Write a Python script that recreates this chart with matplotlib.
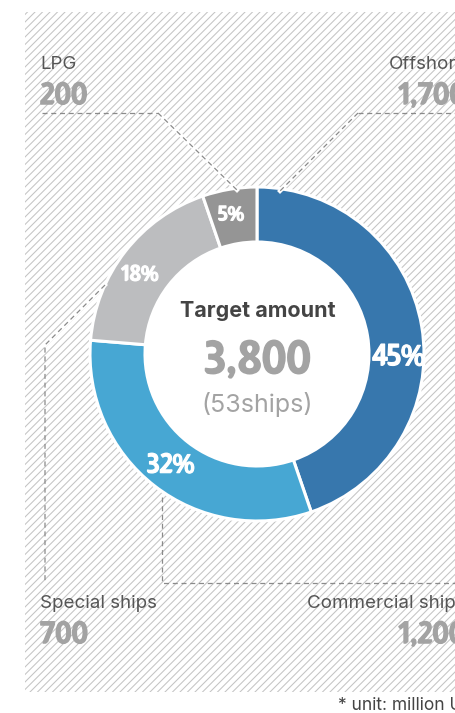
import numpy as np
import matplotlib
matplotlib.use("Agg")
import matplotlib.pyplot as plt
import matplotlib.patheffects as pe
from matplotlib import font_manager
from matplotlib.font_manager import FontProperties
from matplotlib.textpath import TextPath
from matplotlib.patches import Rectangle, Circle

# data
categories = ["Offshore", "Commercial ships", "Special ships", "LPG"]
amounts = [1700, 1200, 700, 200]
pct_labels = ["45%", "32%", "18%", "5%"]
total_amount = "3,800"
total_ships = "(53ships)"
unit_note = "* unit: million USD"

colors = ["#3777ad", "#47a7d3", "#bcbdbf", "#959595"]
pct_px = [22, 20, 16, 15]   # digit heights in the reference, pixels

# pick the bold face whose digits are as narrow as the reference's
best = None
for f in font_manager.fontManager.ttflist:
    if f.style != "normal" or f.weight not in (700, "bold"):
        continue
    try:
        bb = TextPath((0, 0), "200", size=100, prop=FontProperties(fname=f.fname)).get_extents()
    except Exception:
        continue
    if bb.height <= 0:
        continue
    score = abs(bb.width / bb.height - 2.05)
    if best is None or score < best[0]:
        best = (score, f.fname, bb.height / 100)
num_file, digit_frac = best[1], best[2]


def numfont(px):
    # font size (pt) so that digits are px pixels tall at 100 dpi
    return FontProperties(fname=num_file, size=px / digit_frac * 0.72)


def heavy(color, lw=1.1):
    return [pe.withStroke(linewidth=lw, foreground=color)]


names = {f.name for f in font_manager.fontManager.ttflist}
sans = "Inter" if "Inter" in names else "Liberation Sans"

W, H = 456, 713
fig = plt.figure(figsize=(W / 100, H / 100), dpi=100)
ax = fig.add_axes([0, 0, 1, 1])


def Y(py):  # pixel row -> data y
    return H - py


# hatched background
bg = Rectangle((25, Y(692)), 460, 680, facecolor="white", edgecolor="none", zorder=0)
ax.add_patch(bg)
step = 7.5
for x0 in np.arange(25 - 700, 500, step):
    ln, = ax.plot([x0, x0 + 700], [Y(692), Y(692) + 700], color="#c4c4c4", lw=0.75, zorder=1)
    ln.set_clip_path(bg)

cx, cy, r_out, r_in = 257, Y(354), 167, 112

ax.add_patch(Circle((cx, cy), r_in, facecolor="white", edgecolor="none", zorder=2))
wedges, _ = ax.pie(amounts, colors=colors, startangle=90, counterclock=False,
                   radius=r_out, center=(cx, cy),
                   wedgeprops=dict(width=r_out - r_in, edgecolor="white", linewidth=2.2))
for w in wedges:
    w.set_zorder(3)

# percentage labels
tweak = [-11, 0, 4, 1]
r_mid = (r_out + r_in) / 2 + 2
for w, lab, px, dt in zip(wedges, pct_labels, pct_px, tweak):
    mid = (w.theta1 + w.theta2) / 2 + dt
    a = np.deg2rad(mid)
    ax.text(cx + r_mid * np.cos(a), cy + r_mid * np.sin(a), lab, color="white",
            fontproperties=numfont(px), ha="center", va="center", zorder=5,
            path_effects=heavy("white", 0.9))

# center
ax.text(cx + 1, Y(317), "Target amount", fontsize=15.5, fontweight="bold", family=sans,
        color="#444444", ha="center", va="baseline", zorder=5)
ax.text(cx, Y(373), total_amount, fontproperties=numfont(33),
        color="#a3a3a3", ha="center", va="baseline", zorder=5,
        path_effects=heavy("#a3a3a3", 1.4))
ax.text(cx, Y(405), total_ships, fontsize=18, family=sans,
        color="#a3a3a3", ha="center", va="center", zorder=5)

# leader lines
dash = dict(color="#8a8a8a", lw=0.9, ls=(0, (4, 3)), zorder=4)
under = dict(color="white", lw=3, zorder=3.5)
ax.plot([42, 158], [Y(113), Y(113)], **dash)
ax.plot([158, 237], [Y(113), Y(190)], **under)
ax.plot([158, 237], [Y(113), Y(190)], **dash)
ax.plot([358, 470], [Y(113), Y(113)], **dash)
ax.plot([358, 280], [Y(113), Y(191)], **under)
ax.plot([358, 280], [Y(113), Y(191)], **dash)
ax.plot([105, 45], [Y(285), Y(345)], **under)
ax.plot([105, 45, 45], [Y(285), Y(345), Y(583)], **dash)
ax.plot([162, 162, 470], [Y(497), Y(583), Y(583)], **dash)

# category labels
pos = {"LPG": (40, 69), "Offshore": (389, 69), "Special ships": (40, 608), "Commercial ships": (307, 608)}
num_x = {"LPG": 40, "Offshore": 398, "Special ships": 40, "Commercial ships": 398}
for name, amt in zip(categories, amounts):
    x, y = pos[name]
    ax.text(x, Y(y), name, fontsize=13.5, family=sans, color="#555555", va="baseline", zorder=5)
    ax.text(num_x[name], Y(y + 35), f"{amt:,}", fontproperties=numfont(22),
            color="#a3a3a3", va="baseline", zorder=5, path_effects=heavy("#a3a3a3", 1.1))

ax.text(338, Y(710), unit_note, fontsize=12.5, family=sans, color="#444444", va="baseline")

ax.set_xlim(0, W)
ax.set_ylim(0, H)
ax.axis("off")
fig.savefig("out.png", dpi=100)
